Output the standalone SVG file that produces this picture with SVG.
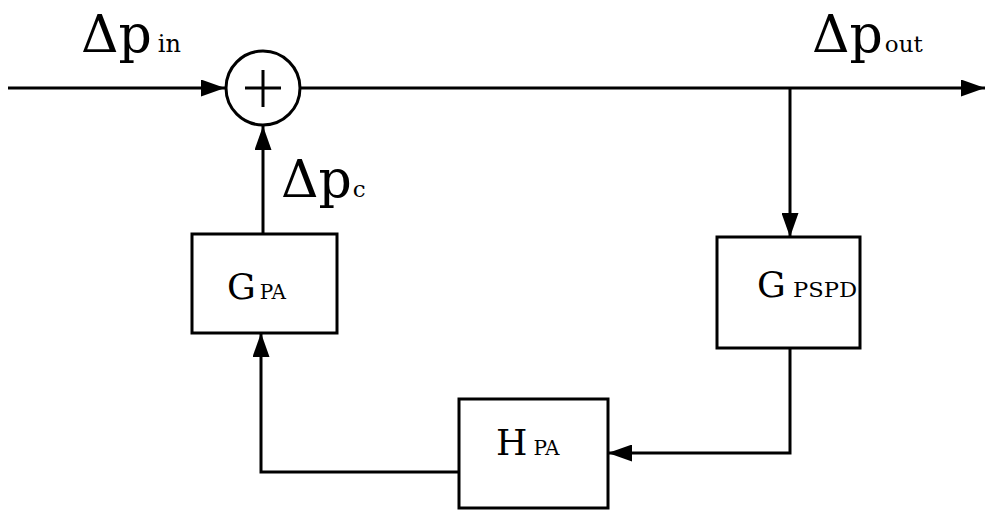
<svg xmlns="http://www.w3.org/2000/svg" width="986" height="513" viewBox="0 0 986 513">
<style>
.ln{fill:none;stroke:#000;stroke-width:3}
.bx{fill:#fff;stroke:#000;stroke-width:3}
.t{fill:#000;font-family:"DejaVu Serif","Liberation Serif",serif}
</style>
<defs>
<marker id="ah" markerUnits="userSpaceOnUse" markerWidth="25" markerHeight="17" refX="24" refY="8.5" orient="auto">
<path d="M0,0 L24,8.5 L0,17 Z" fill="#000"/>
</marker>
</defs>
<rect width="986" height="513" fill="#fff"/>
<g id="connectors">
<line class="ln" x1="8" y1="88" x2="225" y2="88" marker-end="url(#ah)"/>
<line class="ln" x1="300" y1="88" x2="985" y2="88" marker-end="url(#ah)"/>
<line class="ln" x1="790" y1="88" x2="790" y2="237" marker-end="url(#ah)"/>
<polyline class="ln" points="790,348 790,453 608,453" marker-end="url(#ah)"/>
<polyline class="ln" points="459,472 261,472 261,333" marker-end="url(#ah)"/>
<line class="ln" x1="263" y1="234" x2="263" y2="126" marker-end="url(#ah)"/>
</g>
<g id="sum">
<circle class="bx" cx="263" cy="88" r="37"/>
<line class="ln" x1="245" y1="88" x2="281" y2="88"/>
<line class="ln" x1="263" y1="70" x2="263" y2="107"/>
</g>
<g id="GPA">
<rect class="bx" x="192" y="234" width="145" height="99"/>
<text class="t" x="227" y="299" font-size="36">G<tspan font-size="20" dx="4">PA</tspan></text>
</g>
<g id="GPSPD">
<rect class="bx" x="717" y="237" width="143" height="111"/>
<text class="t" x="757" y="297" font-size="36">G</text>
<text class="t" x="793" y="297" font-size="20" textLength="64" lengthAdjust="spacingAndGlyphs">PSPD</text>
</g>
<g id="HPA">
<rect class="bx" x="459" y="399" width="149" height="109"/>
<text class="t" x="496" y="455" font-size="36">H<tspan font-size="20" dx="6">PA</tspan></text>
</g>
<g id="labels">
<text class="t" x="81" y="52" font-size="52">Δp<tspan font-size="24" dx="6">in</tspan></text>
<text class="t" x="812" y="52" font-size="52">Δp<tspan font-size="23" dx="2">out</tspan></text>
<text class="t" x="281" y="197" font-size="52">Δp<tspan font-size="23" dx="1">c</tspan></text>
</g>
</svg>
